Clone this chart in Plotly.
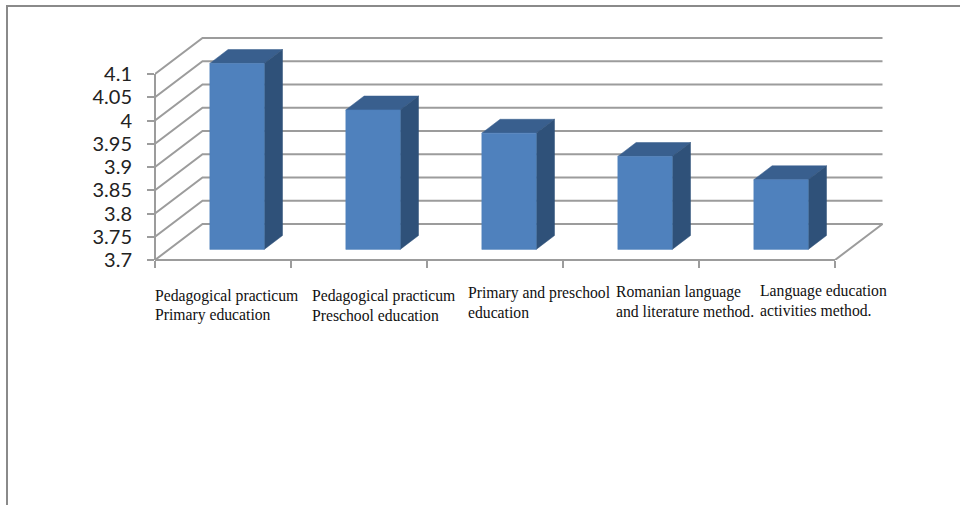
import plotly.graph_objects as go

# Chart data
categories = [
    ["Pedagogical practicum", "Primary education"],
    ["Pedagogical practicum", "Preschool education"],
    ["Primary and preschool", "education"],
    ["Romanian language", "and literature method."],
    ["Language education", "activities method."],
]
values = [4.10, 4.00, 3.95, 3.90, 3.85]
value_ticks = [3.7, 3.75, 3.8, 3.85, 3.9, 3.95, 4.0, 4.05, 4.1]
value_tick_text = ["3.7", "3.75", "3.8", "3.85", "3.9", "3.95", "4", "4.05", "4.1"]

# Plot box in pixels; the top has spare room so the back wall's top line is not clipped
W, H = 960, 505
LEFT, RIGHT, TOP, BOTTOM = 155, 886, 30, 260
PX_PER_CAT = 136.0
PX_PER_UNIT = 465.0
BASE = 3.7

# Oblique projection: full depth shifts a point right and up
DX = 47.5 / PX_PER_CAT
DY = 36.0 / PX_PER_UNIT
BAR_WIDTH = 0.40
DEPTH_FRONT, DEPTH_BACK = 0.295, 0.68

GRID = "#9c9c9c"
FRONT, SIDE, CAP = "#4F81BD", "#2F5179", "#395F8E"


def px_x(px):
    return (px - LEFT) / (RIGHT - LEFT)


def px_y(py):
    return (BOTTOM - py) / (BOTTOM - TOP)


def project(x, v, depth):
    return x + depth * DX, v + depth * DY


def polygon(points, color):
    xs, ys = zip(*[project(*p) for p in points + points[:1]])
    return go.Scatter(x=xs, y=ys, mode="lines", fill="toself", fillcolor=color,
                      line=dict(color=color, width=0.5), hoverinfo="skip",
                      showlegend=False)


def polyline(points, width=2):
    xs, ys = zip(*[project(*p) for p in points])
    return go.Scatter(x=xs, y=ys, mode="lines", line=dict(color=GRID, width=width),
                      hoverinfo="skip", showlegend=False)


n = len(categories)
fig = go.Figure()

# Back wall gridlines with their diagonal run along the side wall
for v in value_ticks[1:]:
    fig.add_trace(polyline([(0, v, 0), (0, v, 1), (n, v, 1)]))
fig.add_trace(polyline([(n, BASE, 0), (n, BASE, 1), (0, BASE, 1), (0, BASE, 0)]))

# Columns: cap, side, then front face
for i, v in enumerate(values):
    x0 = i + 0.5 - BAR_WIDTH / 2
    x1 = i + 0.5 + BAR_WIDTH / 2
    fig.add_trace(polygon([(x0, v, DEPTH_FRONT), (x1, v, DEPTH_FRONT),
                           (x1, v, DEPTH_BACK), (x0, v, DEPTH_BACK)], CAP))
    fig.add_trace(polygon([(x1, BASE, DEPTH_FRONT), (x1, BASE, DEPTH_BACK),
                           (x1, v, DEPTH_BACK), (x1, v, DEPTH_FRONT)], SIDE))
    fig.add_trace(polygon([(x0, BASE, DEPTH_FRONT), (x1, BASE, DEPTH_FRONT),
                           (x1, v, DEPTH_FRONT), (x0, v, DEPTH_FRONT)], FRONT))

# Category labels: one annotation per line, left-aligned, for a tight line pitch
label_left = [154, 311, 467, 615, 758.5]
label_mid = [296, 296, 293, 292, 291]
LINE_PITCH = 19
annotations = []
for lines, lx, ly in zip(categories, label_left, label_mid):
    for k, line in enumerate(lines):
        annotations.append(dict(
            text=line, x=px_x(lx), y=px_y(ly + k * LINE_PITCH), xref="paper", yref="paper",
            xanchor="left", yanchor="middle", align="left", showarrow=False, borderpad=0,
            font=dict(family="Liberation Serif", size=15.7, color="#111111")))

# Outer frame (top and left edges only) and the two front axis lines
edge = dict(color="#8a8a8a", width=2)
axis = dict(color=GRID, width=2)
shapes = [
    dict(type="line", xref="paper", yref="paper", layer="below",
         x0=px_x(6), x1=px_x(W), y0=px_y(6), y1=px_y(6), line=edge),
    dict(type="line", xref="paper", yref="paper", layer="below",
         x0=px_x(7), x1=px_x(7), y0=px_y(6), y1=px_y(H), line=edge),
    dict(type="line", xref="paper", yref="paper", layer="below",
         x0=px_x(155), x1=px_x(155 + n * PX_PER_CAT), y0=px_y(260), y1=px_y(260), line=axis),
    dict(type="line", xref="paper", yref="paper", layer="below",
         x0=px_x(155), x1=px_x(155), y0=px_y(260), y1=px_y(74), line=axis),
]

fig.update_layout(
    width=W, height=H,
    margin=dict(l=LEFT, r=W - RIGHT, t=TOP, b=H - BOTTOM, autoexpand=False),
    paper_bgcolor="white", plot_bgcolor="rgba(0,0,0,0)",
    showlegend=False, annotations=annotations, shapes=shapes,
    xaxis=dict(range=[0, (RIGHT - LEFT) / PX_PER_CAT], showgrid=False, zeroline=False,
               showline=False, tickmode="array", tickvals=list(range(n + 1)),
               ticktext=[""] * (n + 1), ticks="outside", ticklen=7, tickwidth=1.5,
               tickcolor=GRID),
    yaxis=dict(range=[BASE, BASE + (BOTTOM - TOP) / PX_PER_UNIT], showgrid=False,
               zeroline=False, showline=False, tickmode="array", tickvals=value_ticks,
               ticktext=value_tick_text, ticks="outside", ticklen=7, tickwidth=1.5,
               tickcolor=GRID, ticklabelstandoff=11,
               tickfont=dict(family="Lato", size=20, color="#222222")),
)

fig.write_html("out.html", config={"displayModeBar": False})
